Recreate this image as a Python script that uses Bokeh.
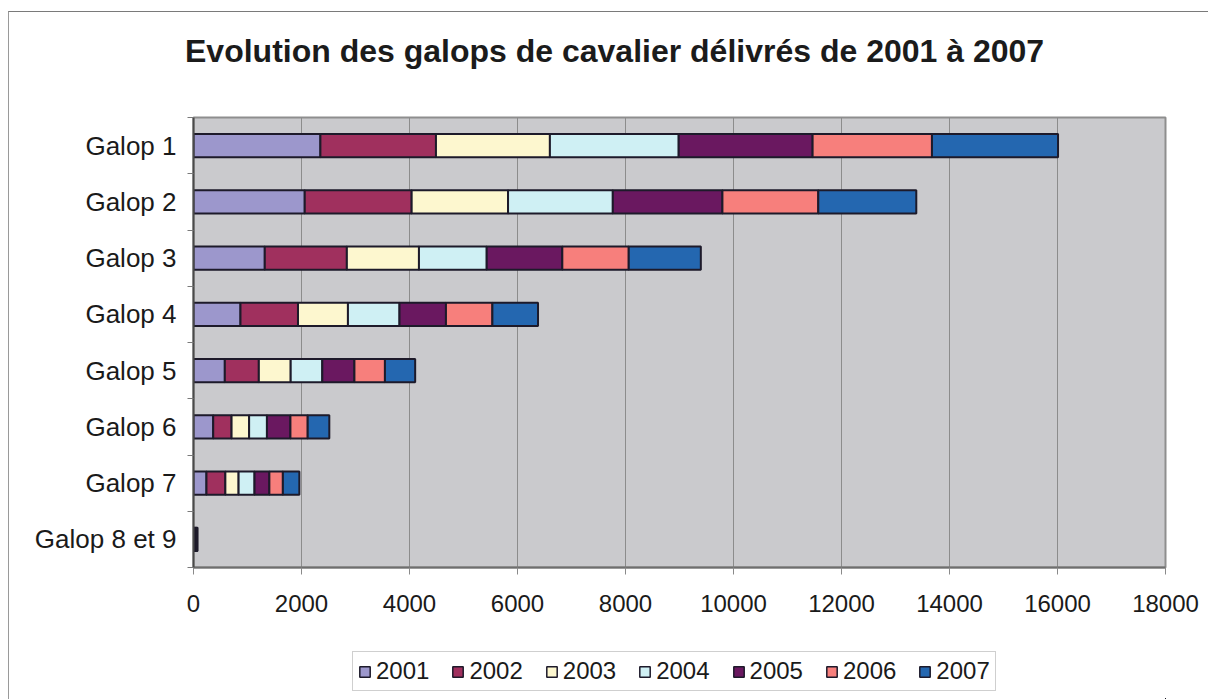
from bokeh.plotting import figure
from bokeh.layouts import column
from bokeh.models import ColumnDataSource, Div, FixedTicker, Legend, LegendItem, Range1d
from bokeh.embed import file_html
from bokeh.resources import INLINE

# Riding certificates ("galops") issued per level, 2001-2007
categories = ["Galop 1", "Galop 2", "Galop 3", "Galop 4",
              "Galop 5", "Galop 6", "Galop 7", "Galop 8 et 9"]
years = ["2001", "2002", "2003", "2004", "2005", "2006", "2007"]

v2001 = [2350, 2060, 1320, 870, 580, 365, 240, 11]
v2002 = [2140, 1980, 1520, 1065, 630, 340, 350, 10]
v2003 = [2110, 1785, 1335, 925, 590, 325, 245, 9]
v2004 = [2385, 1940, 1255, 955, 585, 330, 295, 12]
v2005 = [2480, 2030, 1400, 860, 595, 435, 275, 10]
v2006 = [2210, 1775, 1230, 860, 565, 320, 250, 11]
v2007 = [2335, 1815, 1335, 845, 560, 400, 305, 12]
series = [v2001, v2002, v2003, v2004, v2005, v2006, v2007]

x_ticks = [0, 2000, 4000, 6000, 8000, 10000, 12000, 14000, 16000, 18000]

TITLE = "Evolution des galops de cavalier délivrés de 2001 à 2007"

colors = ["#9c97cc", "#a0305e", "#fdf7cf", "#cff0f4", "#6a1860", "#f77f7c", "#2467b0"]
BAR_EDGE = "#1d1a2a"
FONT = "Liberation Sans"

n = len(categories)
ypos = [n - 0.5 - i for i in range(n)]  # first category on top

data = {"cat": categories, "y": ypos}
for yr, vals in zip(years, series):
    data[yr] = vals
src = ColumnDataSource(data)

# title strip
head = Div(width=1199, height=80, margin=(0, 0, 0, 0),
           text=('<div style="padding:20px 0 0 176px; font-family:\'Liberation Sans\';'
                 ' font-weight:bold; font-size:32px; line-height:38px; color:#1b1b1b;'
                 ' white-space:nowrap;">' + TITLE + '</div>'))

p = figure(width=1199, height=548,
           x_range=Range1d(0, 18000), y_range=Range1d(0, n),
           output_backend="svg", toolbar_location=None,
           min_border_left=184, min_border_right=43,
           min_border_top=25, min_border_bottom=73)

p.background_fill_color = "#cacacd"
p.border_fill_color = "white"
p.outline_line_color = "#8e8e8e"
p.outline_line_width = 2

p.hbar_stack(years, y="y", height=0.41, color=colors,
             line_color=BAR_EDGE, line_width=2, source=src)

# x axis
p.xaxis.ticker = FixedTicker(ticks=x_ticks)
p.xaxis.major_label_text_font = FONT
p.xaxis.major_label_text_font_size = "24px"
p.xaxis.major_label_text_color = "#1a1a1a"
p.xaxis.major_tick_out = 7
p.xaxis.major_tick_in = 0
p.xaxis.major_tick_line_color = "#8a8a8a"
p.xaxis.minor_tick_line_color = None
p.xaxis.axis_line_color = "#6e6e6e"
p.xaxis.axis_line_width = 2
p.xaxis.major_label_standoff = 20

# y axis: labels at bar centres, small ticks between categories
p.yaxis.ticker = FixedTicker(ticks=ypos, minor_ticks=list(range(0, n + 1)))
p.yaxis.major_label_overrides = {y: c for y, c in zip(ypos, categories)}
p.yaxis.major_label_text_font = FONT
p.yaxis.major_label_text_font_size = "26px"
p.yaxis.major_label_text_color = "#1a1a1a"
p.yaxis.major_tick_line_color = None
p.yaxis.major_tick_out = 0
p.yaxis.minor_tick_out = 6
p.yaxis.minor_tick_in = 0
p.yaxis.minor_tick_line_color = "#7a7a7a"
p.yaxis.axis_line_color = "#4a4a4a"
p.yaxis.axis_line_width = 2
p.yaxis.major_label_standoff = 11

p.xgrid.ticker = FixedTicker(ticks=x_ticks)
p.xgrid.grid_line_color = "#8c8c8c"
p.ygrid.grid_line_color = None

# legend strip under the chart; its ranges keep the stacked bars out of view,
# so only the legend swatches show
leg = figure(width=1199, height=59, x_range=Range1d(-2, -1), y_range=Range1d(100, 101),
             output_backend="svg", toolbar_location=None,
             x_axis_location=None, y_axis_location=None,
             min_border_left=0, min_border_right=0,
             min_border_top=0, min_border_bottom=0)
leg.xgrid.visible = False
leg.ygrid.visible = False
leg.outline_line_color = None
leg.background_fill_color = "white"
leg.border_fill_color = "white"

swatches = leg.hbar_stack(years, y="y", height=0.41, color=colors,
                          line_color=BAR_EDGE, line_width=1.5, source=src)
items = [LegendItem(label=yr, renderers=[r]) for yr, r in zip(years, swatches)]
legend = Legend(items=items, orientation="horizontal", location=(159, 8),
                label_text_font=FONT, label_text_font_size="24px",
                label_text_color="#1a1a1a",
                glyph_width=13, glyph_height=13, label_standoff=5,
                spacing=22, padding=5, margin=0,
                border_line_color="#a0a0a0", border_line_width=1,
                background_fill_color="white", background_fill_alpha=1)
leg.add_layout(legend, "center")

page = column(head, p, leg, spacing=0)
page.margin = (11, 0, 0, 8)
page.styles = {"border-top": "1px solid #7a7a7a", "border-left": "1px solid #9a9a9a"}

open("out.html", "w").write(file_html(page, INLINE))
